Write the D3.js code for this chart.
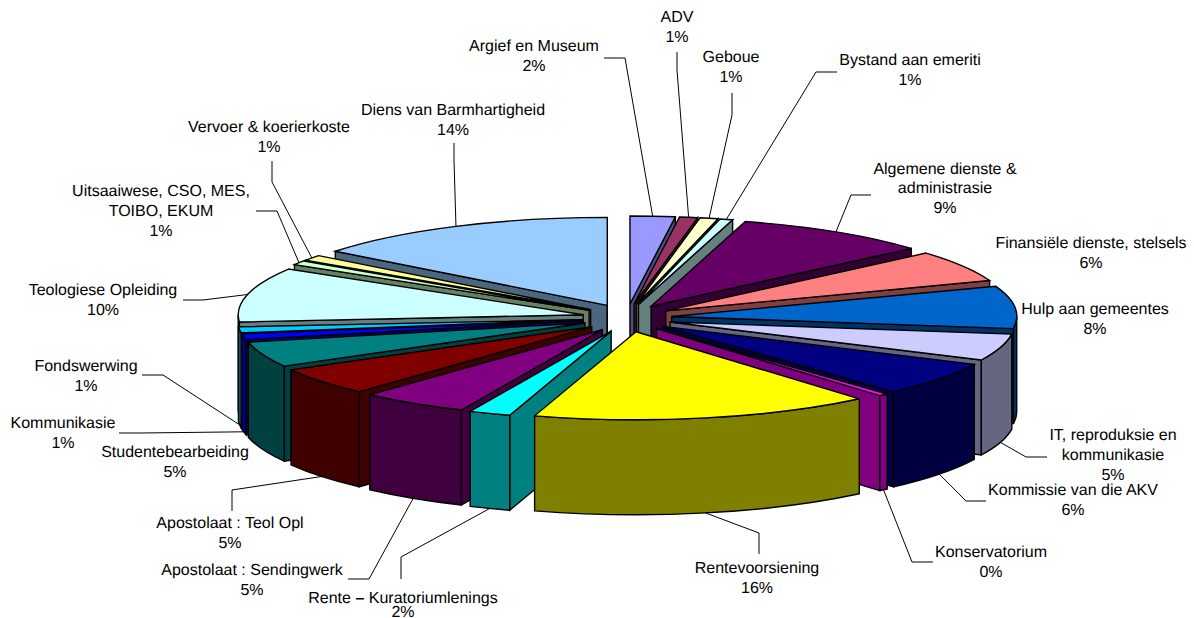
<!DOCTYPE html>
<html>
<head>
<meta charset="utf-8">
<script src="https://cdn.jsdelivr.net/npm/d3@7"></script>
<style>
  html, body { margin: 0; background: #fff; }
  text { font-family: "Liberation Sans", Arial, sans-serif; font-size: 16px; fill: #000; text-rendering: geometricPrecision; }
</style>
</head>
<body>
<svg id="chart" width="1194" height="618"></svg>
<script>
// data (percent of total, clockwise from 12 o'clock)
const names = [
  ["Argief en Museum"], ["ADV"], ["Geboue"], ["Bystand aan emeriti"],
  ["Algemene dienste &", "administrasie"], ["Finansiële dienste, stelsels"],
  ["Hulp aan gemeentes"], ["IT, reproduksie en", "kommunikasie"],
  ["Kommissie van die AKV"], ["Konservatorium"], ["Rentevoorsiening"],
  ["Rente – Kuratoriumlenings"], ["Apostolaat : Sendingwerk"], ["Apostolaat : Teol Opl"],
  ["Studentebearbeiding"], ["Kommunikasie"], ["Fondswerwing"], ["Teologiese Opleiding"],
  ["Uitsaaiwese, CSO, MES,", "TOIBO, EKUM"], ["Vervoer & koerierkoste"], ["Diens van Barmhartigheid"]
];
const values = [2.1, 0.85, 0.85, 0.6, 9.2, 5.8, 7.8, 4.9, 6.25, 0.45, 15.95, 1.95, 5.07, 5.08, 4.65, 1.1, 1.1, 10, 0.8, 1.05, 14.45];
const colors = ["#9999ff", "#993366", "#ffffcc", "#ccffff", "#660066", "#ff8080", "#0066cc", "#ccccff", "#000080",
  "#ff00ff", "#ffff00", "#00ffff", "#800080", "#800000", "#008080", "#0000ff", "#00ccff", "#ccffff", "#ccffcc", "#ffff99", "#99ccff"];

// label layout: centre x, first line centre y, line height
const labelPos = [
  [534, 46, 20], [677, 17, 20], [731, 57, 20], [910, 60, 20], [945, 169, 19.5], [1091, 243, 20],
  [1095, 309, 20], [1113, 435, 20], [1073, 490, 20], [991, 552, 20], [757, 568, 20], [403, 598, 14],
  [252, 570, 20], [230, 523, 20], [175, 452, 20], [63, 423, 20], [86, 366, 20], [103, 290, 20],
  [161, 191, 20], [269, 127, 20], [453, 110, 20]
];
// leader lines: label end, elbow (the rim end comes from the slice). null = no leader
const leaders = [
  [[604, 58], [625, 58]], [[677, 52], [677, 70]], [[732, 93], [732, 115]], [[837, 72], [816, 72]],
  [[871, 195], [851, 195]], null, null, [[1047, 457], [1026, 457]],
  [[986, 501], [966, 501]], [[933, 562], [912, 562]], [[759, 554], [759, 533]], [[401, 579], [401, 557]],
  [[348, 579], [369, 579]], [[232, 511], [232, 490]], null, [[119, 433], [140, 433]],
  [[142, 375], [163, 375]], [[183, 300], [203, 300]], [[256, 211], [277, 211]], [[272, 161], [272, 182]],
  [[454, 143], [454, 160]]
];

const cx = 627, cy = 318;      // pie centre
const rx = 345, ry = 88;       // top ellipse
const ex = 45, ey = 14;        // explosion
const depth = 95;

const svg = d3.select("#chart");
const pct = d3.format(".0%");
const total = d3.sum(values);

const arcs = d3.pie().sort(null).value(d => d)(values);

// project angle (clockwise from top) on the rim of a slice
const rim = (a, apex, z = 0) => [apex[0] + rx * Math.sin(a), apex[1] - ry * Math.cos(a) + z];

const slices = arcs.map((d, i) => {
  const mid = (d.startAngle + d.endAngle) / 2;
  return { ...d, i, mid, apex: [cx + ex * Math.sin(mid), cy - ey * Math.cos(mid)] };
});

const poly = pts => "M" + pts.map(p => p.join(",")).join("L") + "Z";
const wallColor = c => { const k = d3.rgb(c); return d3.rgb(k.r / 2, k.g / 2, k.b / 2).formatHex(); };

const sideWall = (a, s) => poly([s.apex, rim(a, s.apex), rim(a, s.apex, depth), [s.apex[0], s.apex[1] + depth]]);

const outerWall = (s) => {
  const a0 = Math.max(s.startAngle, Math.PI / 2), a1 = Math.min(s.endAngle, Math.PI * 1.5);
  if (a1 <= a0) return null;
  const p0 = rim(a0, s.apex), p1 = rim(a1, s.apex), q1 = rim(a1, s.apex, depth), q0 = rim(a0, s.apex, depth);
  return `M${p0}A${rx},${ry} 0 0 1 ${p1}L${q1}A${rx},${ry} 0 0 0 ${q0}Z`;
};

const topFace = (s) => {
  const p0 = rim(s.startAngle, s.apex), p1 = rim(s.endAngle, s.apex);
  return `M${s.apex}L${p0}A${rx},${ry} 0 0 1 ${p1}Z`;
};

// back slices first
const order = slices.slice().sort((a, b) => d3.descending(Math.cos(a.mid), Math.cos(b.mid)));

const g = svg.append("g").attr("stroke", "#000").attr("stroke-width", 1.4).attr("stroke-linejoin", "miter");

order.forEach(s => {
  const dark = wallColor(colors[s.i]);
  const ss = g.append("g").attr("class", "slice");
  // only the cut faces turned towards the viewer
  if (Math.sin(s.startAngle) < 0) ss.append("path").attr("d", sideWall(s.startAngle, s)).attr("fill", dark);
  if (Math.sin(s.endAngle) > 0) ss.append("path").attr("d", sideWall(s.endAngle, s)).attr("fill", dark);
  const o = outerWall(s);
  if (o) ss.append("path").attr("d", o).attr("fill", dark);
  ss.append("path").attr("d", topFace(s)).attr("fill", colors[s.i]);
});

// leader lines
const lineGen = d3.line();
svg.append("g")
  .selectAll("path")
  .data(slices.filter(s => leaders[s.i]))
  .join("path")
  .attr("fill", "none")
  .attr("stroke", "#000")
  .attr("stroke-width", 1)
  .attr("d", s => {
    const front = Math.cos(s.mid) < 0.02;
    return lineGen([...leaders[s.i], rim(s.mid, s.apex, front ? depth : 0)]);
  });

// labels
const labels = svg.append("g").attr("text-anchor", "middle");
slices.forEach(s => {
  const [x, y, lh] = labelPos[s.i];
  const lines = [...names[s.i], pct(values[s.i] / total)];
  lines.forEach((t, k) => {
    const el = labels.append("text").attr("x", x).attr("y", y + k * lh).attr("dy", "0.3em");
    if (t.includes("–")) {
      const parts = t.split("–");
      el.append("tspan").text(parts[0]);
      el.append("tspan").attr("font-weight", "bold").text("–");
      el.append("tspan").text(parts[1]);
    } else {
      el.text(t);
    }
  });
});
</script>
</body>
</html>
